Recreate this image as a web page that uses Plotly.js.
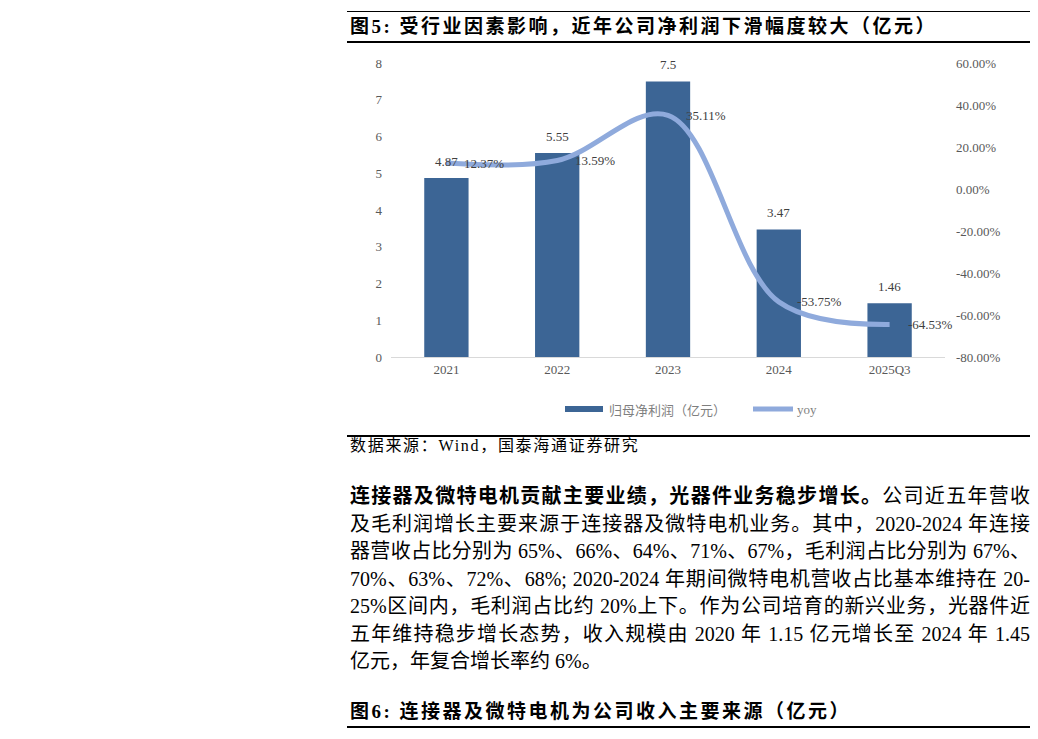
<!DOCTYPE html>
<html>
<head>
<meta charset="utf-8">
<script src="https://cdn.plot.ly/plotly-3.0.1.min.js"></script>
<style>
  html, body { margin: 0; padding: 0; background: #fff; }
  body { width: 1038px; height: 739px; position: relative; overflow: hidden;
         font-family: "Liberation Serif", "Times New Roman", "Noto Sans CJK SC", serif; color: #000; }
  #chart { position: absolute; left: 0; top: 0; width: 1038px; height: 739px; }
  .rule { position: absolute; left: 347px; width: 683px; background: #000; }
  .abs { position: absolute; left: 350px; white-space: nowrap; }
  .fig-title { font-weight: bold; font-size: 19px; line-height: 24px; letter-spacing: 2.5px; }
  .para { position: absolute; left: 350px; width: 680px; top: 483px; font-size: 20px; line-height: 27.5px; }
  .para div { text-align: justify; text-align-last: justify; text-justify: inter-character; white-space: nowrap; }
  .para div.last { text-align-last: left; }
</style>
</head>
<body>
<div id="chart"></div>

<div class="rule" style="top:11px;height:1px;"></div>
<div class="abs fig-title" style="top:15px;">图5:&nbsp;受行业因素影响，近年公司净利润下滑幅度较大（亿元）</div>
<div class="rule" style="top:41px;height:2px;"></div>

<div class="rule" style="top:435px;height:2px;"></div>
<div class="abs" style="top:436px;font-size:16px;line-height:20px;letter-spacing:1.7px;">数据来源：Wind，国泰海通证券研究</div>

<div class="para">
  <div><b>连接器及微特电机贡献主要业绩，光器件业务稳步增长。</b>公司近五年营收</div>
  <div>及毛利润增长主要来源于连接器及微特电机业务。其中，2020-2024 年连接</div>
  <div>器营收占比分别为 65%、66%、64%、71%、67%，毛利润占比分别为 67%、</div>
  <div>70%、63%、72%、68%; 2020-2024 年期间微特电机营收占比基本维持在 20-</div>
  <div>25%区间内，毛利润占比约 20%上下。作为公司培育的新兴业务，光器件近</div>
  <div>五年维持稳步增长态势，收入规模由 2020 年 1.15 亿元增长至 2024 年 1.45</div>
  <div class="last">亿元，年复合增长率约 6%。</div>
</div>

<div class="abs fig-title" style="top:700px;">图6:&nbsp;连接器及微特电机为公司收入主要来源（亿元）</div>
<div class="rule" style="top:726px;height:2px;"></div>

<script>
// Net profit attributable to parent (亿元) and its YoY growth (%)
const periods = ['2021', '2022', '2023', '2024', '2025Q3'];
const netProfit = [4.87, 5.55, 7.5, 3.47, 1.46];
const yoyPct = [12.37, 13.59, 35.11, -53.75, -64.53];
const barName = '归母净利润（亿元）';
const lineName = 'yoy';
// right-axis ticks (%)
const yoyTicks = [-80, -60, -40, -20, 0, 20, 40, 60];

const BAR_COLOR = '#3C6595';
const LINE_COLOR = '#8FAADC';
const SERIF = '"Liberation Serif", "Times New Roman", serif';

// plot area in page pixels
const L = 391, R = 945, T = 63, B = 357;
const W = R - L, H = B - T;
const px = x => (x - L) / W;
const py = y => (B - y) / H;

const barTrace = {
  type: 'bar', x: periods, y: netProfit, name: barName,
  marker: { color: BAR_COLOR }, width: 0.4, hoverinfo: 'x+y'
};
const lineTrace = {
  type: 'scatter', mode: 'lines', x: periods, y: yoyPct, name: lineName, yaxis: 'y2',
  line: { color: LINE_COLOR, width: 5, shape: 'spline', smoothing: 1 }, hoverinfo: 'x+y'
};

// value labels; category positions given by index so year-like names are not read as numbers
const labelFont = { family: SERIF, size: 13, color: '#404040' };
const annotations = [];
netProfit.forEach((v, i) => annotations.push({
  x: i, y: v, xref: 'x', yref: 'y', text: String(v),
  showarrow: false, yanchor: 'bottom', yshift: 7, font: labelFont
}));
yoyPct.forEach((v, i) => annotations.push({
  x: i, y: v, xref: 'x', yref: 'y2', text: v.toFixed(2) + '%',
  showarrow: false, xanchor: 'left', xshift: 16, yanchor: 'middle', font: labelFont
}));

// legend drawn as shapes + texts under the plot
const legendY = 409;
const shapes = [
  { type: 'rect', xref: 'paper', yref: 'paper', x0: px(565), x1: px(603), y0: py(412), y1: py(406),
    fillcolor: BAR_COLOR, line: { width: 0 } },
  { type: 'line', xref: 'paper', yref: 'paper', x0: px(753), x1: px(793), y0: py(legendY), y1: py(legendY),
    line: { color: LINE_COLOR, width: 5 } }
];
const legendFont = { family: '"Noto Sans CJK SC", sans-serif', size: 13, color: '#7F7F7F' };
annotations.push({ xref: 'paper', yref: 'paper', x: px(607), y: py(legendY), text: barName,
  showarrow: false, xanchor: 'left', yanchor: 'middle', font: legendFont });
annotations.push({ xref: 'paper', yref: 'paper', x: px(795), y: py(legendY), text: lineName,
  showarrow: false, xanchor: 'left', yanchor: 'middle', font: { family: SERIF, size: 13, color: '#7F7F7F' } });

const tickFont = { family: SERIF, size: 13, color: '#595959' };
const layout = {
  width: 1038, height: 739,
  margin: { l: L, r: 1038 - R, t: T, b: 739 - B, pad: 0 },
  paper_bgcolor: 'rgba(0,0,0,0)', plot_bgcolor: 'rgba(0,0,0,0)',
  showlegend: false,
  xaxis: { type: 'category', range: [-0.5, periods.length - 0.5], autorange: false,
    showline: true, linecolor: '#D9D9D9', linewidth: 1,
    ticks: '', tickfont: tickFont, showgrid: false, zeroline: false, fixedrange: true },
  yaxis: { range: [0, 8], autorange: false, dtick: 1, showgrid: false, zeroline: false, showline: false,
    ticks: '', tickfont: tickFont, ticklabelstandoff: 8, fixedrange: true },
  yaxis2: { overlaying: 'y', side: 'right', range: [-80, 60], autorange: false,
    tickmode: 'array', tickvals: yoyTicks, ticktext: yoyTicks.map(v => v.toFixed(2) + '%'),
    showgrid: false, zeroline: false, showline: false, ticks: '', tickfont: tickFont,
    ticklabelstandoff: 10, fixedrange: true },
  annotations: annotations,
  shapes: shapes
};

Plotly.newPlot('chart', [barTrace, lineTrace], layout, { displayModeBar: false, staticPlot: true });
</script>
</body>
</html>
